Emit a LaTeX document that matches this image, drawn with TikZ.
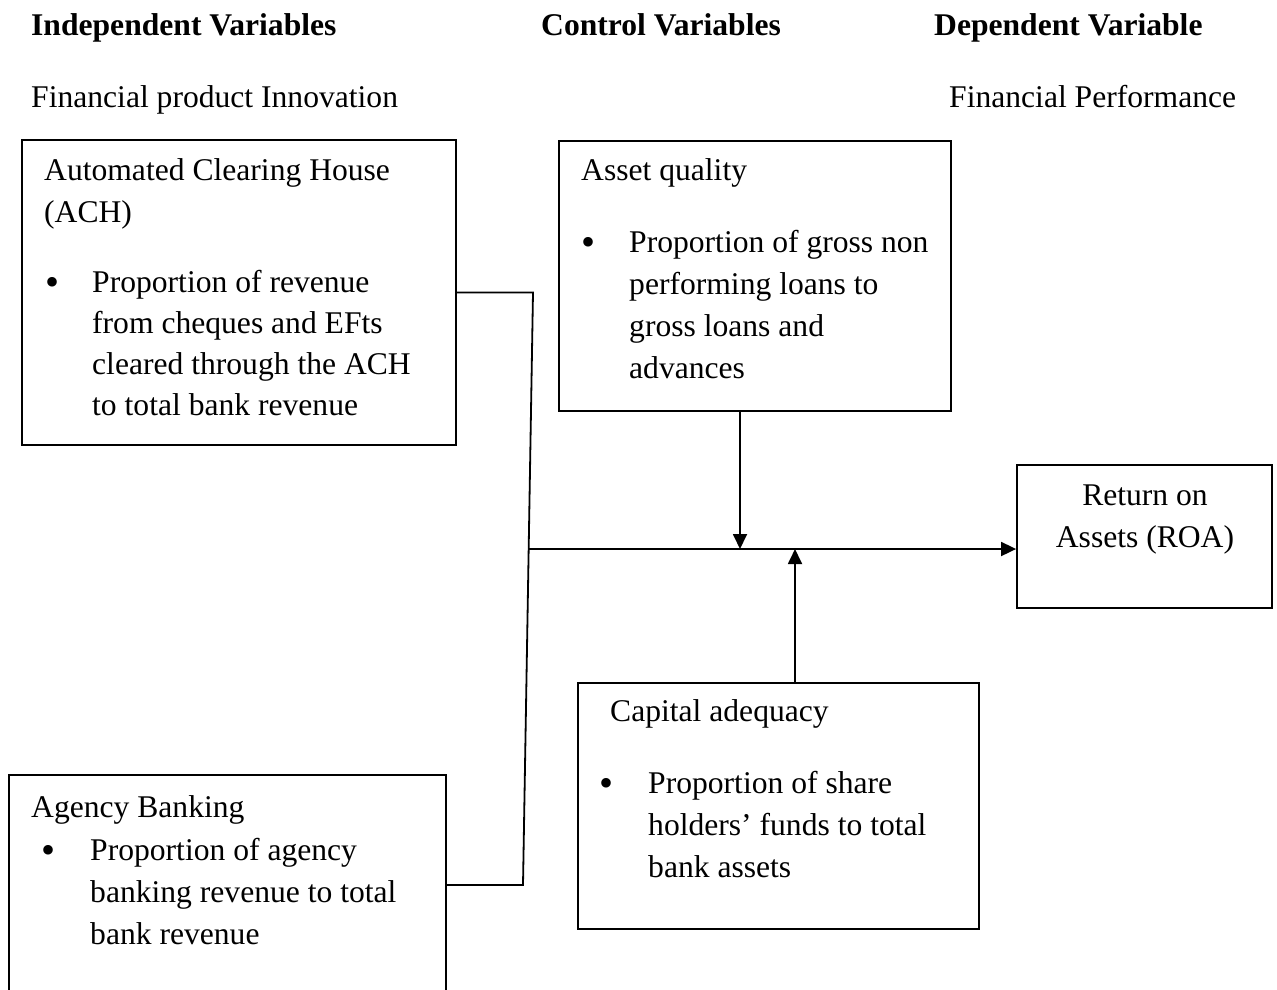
\documentclass[tikz,border=0pt]{standalone}
\usepackage{fontspec}
\setmainfont{Liberation Serif}
\usetikzlibrary{arrows.meta}
\tikzset{
  box/.style={draw, line width=1.8pt, inner sep=0pt},
  txt/.style={anchor=base west, inner sep=0pt, align=left, font=\fontsize{31.6}{42}\selectfont},
  hdr/.style={anchor=base west, inner sep=0pt, font=\fontsize{31.6}{42}\selectfont\bfseries},
  dot/.style={anchor=base, inner sep=0pt, font=\fontsize{31.6}{42}\selectfont},
  bul/.style={anchor=base, inner sep=0pt, font=\fontsize{40}{42}\selectfont},
  link/.style={line width=1.8pt},
  arr/.style={link, -{Triangle[length=15pt,width=14pt]}}
}

\begin{document}
\begin{tikzpicture}[x=1pt, y=1pt]
  \useasboundingbox (0,0) rectangle (1277,-989);

  % Column headers
  \node[hdr] (h1) at (31,-35) {Independent Variables};
  \node[hdr] (h2) at (541,-35) {Control Variables};
  \node[hdr] (h3) at (934,-35) {Dependent Variable};
  \node[txt] (s1) at (31,-107) {Financial product Innovation};
  \node[txt] (s2) at (949,-107) {Financial Performance};

  % Boxes
  \node[box, minimum width=434, minimum height=305] (ach) at (239,-292.5) {};
  \node[box, minimum width=392, minimum height=270] (asset) at (755,-276) {};
  \node[box, minimum width=255, minimum height=143] (roa) at (1144.5,-536.5) {};
  \node[box, minimum width=401, minimum height=246] (capital) at (778.5,-806) {};
  \node[box, minimum width=437, minimum height=220] (agency) at (227.5,-885) {};

  % Automated Clearing House (multi-line nodes sit on their last line)
  \node[txt] (achT) at (44,-222) {Automated Clearing House\\(ACH)};
  \node[bul] (achB) at (53,-295) {•};
  \node[txt, font=\fontsize{31.6}{41}\selectfont] (achL) at (92,-415)
    {Proportion of revenue\\from cheques and EFts\\cleared through the ACH\\to total bank revenue};

  % Asset quality
  \node[txt] (assetT) at (581,-180) {Asset quality};
  \node[bul] (assetB) at (588,-255) {•};
  \node[txt] (assetL) at (629,-378)
    {Proportion of gross non\\performing loans to\\gross loans and\\advances};

  % Return on Assets
  \node[dot, align=center] (roaT) at (1145,-547) {Return on\\Assets (ROA)};

  % Capital adequacy
  \node[txt] (capT) at (610,-721) {Capital adequacy};
  \node[bul] (capB) at (606,-796) {•};
  \node[txt] (capL) at (648,-877)
    {Proportion of share\\holders’ funds to total\\bank assets};

  % Agency Banking
  \node[txt] (agT) at (31,-817) {Agency Banking};
  \node[bul] (agB) at (49,-863) {•};
  \node[txt] (agL) at (90,-944)
    {Proportion of agency\\banking revenue to total\\bank revenue};

  % Connectors
  \coordinate (bendT) at (533,-292.5);
  \coordinate (bendB) at (523,-885);
  \coordinate (jn) at (528.7,-549);
  \coordinate (tipA) at (740,-549);
  \coordinate (tipC) at (795,-549);
  \draw[link] (ach.east) -- (bendT) -- (bendB) -- (agency.east);
  \draw[arr] (jn) -- (jn -| roa.west);
  \draw[arr] (asset.south -| tipA) -- (tipA);
  \draw[arr] (capital.north -| tipC) -- (tipC);
\end{tikzpicture}
\end{document}
